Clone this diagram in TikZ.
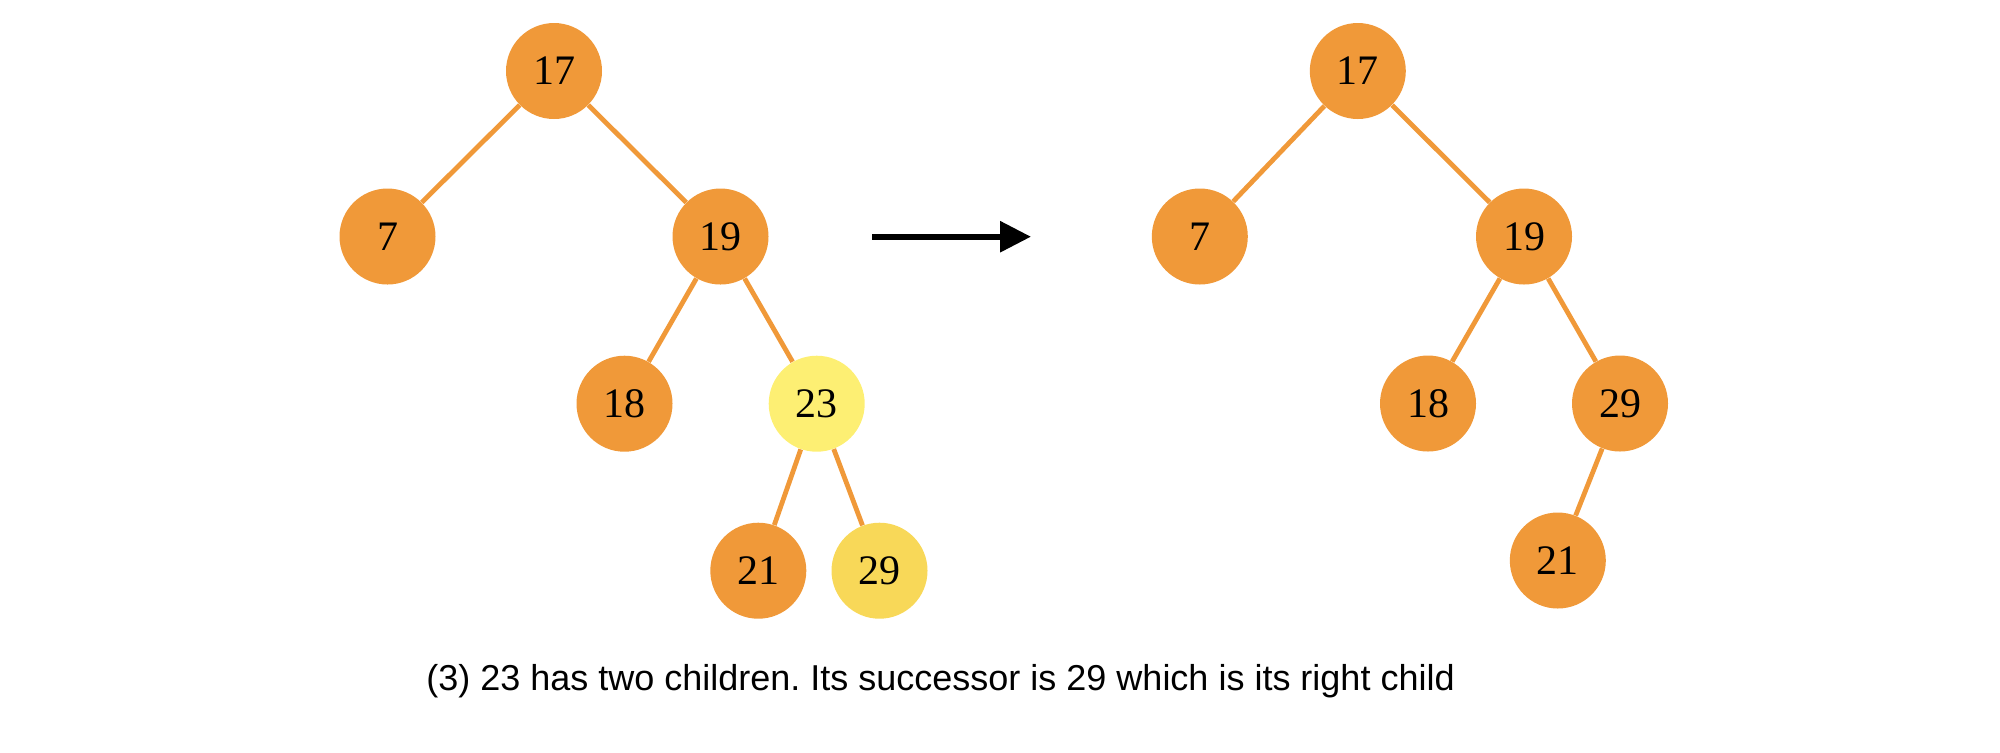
\documentclass[tikz,border=0pt]{standalone}
\usepackage{fontspec}
\setmainfont{Liberation Serif}
\newfontfamily\capfont{Liberation Sans}
\usetikzlibrary{arrows.meta}
\definecolor{treeorange}{RGB}{240,153,57}
\definecolor{lightyellow}{RGB}{253,239,115}
\definecolor{goldyellow}{RGB}{248,216,88}
\tikzset{
  tnode/.style={circle, draw=none, fill=treeorange, minimum size=48pt, inner sep=0pt,
    font=\fontsize{21}{24}\selectfont},
  hlnode/.style={tnode, fill=lightyellow},
  succnode/.style={tnode, fill=goldyellow},
  edge/.style={draw=treeorange, line width=2.4pt},
  bigarrow/.style={draw=black, line width=3pt, -{Triangle[length=15.5pt,width=15pt]}}
}
\begin{document}
\frenchspacing
\begin{tikzpicture}[x=0.5pt,y=-0.5pt]
\useasboundingbox (0,0) rectangle (2000,752);
% left tree
\node[tnode] (L17) at (554,71) {17};
\node[tnode] (L7) at (387.5,236.5) {7};
\node[tnode] (L19) at (720.5,236.5) {19};
\node[tnode] (L18) at (624.5,403.7) {18};
\node[hlnode] (L23) at (816.7,403.7) {23};
\node[tnode] (L21) at (758.3,570.7) {21};
\node[succnode] (L29) at (879.5,570.7) {29};
% right tree
\node[tnode] (R17) at (1357.8,71) {17};
\node[tnode] (R7) at (1199.8,236.5) {7};
\node[tnode] (R19) at (1524,236.5) {19};
\node[tnode] (R18) at (1428,403.5) {18};
\node[tnode] (R29) at (1620,403.5) {29};
\node[tnode] (R21) at (1557.8,560.5) {21};
% edges
\path[edge] (L17) -- (L7);
\path[edge] (L17) -- (L19);
\path[edge] (L19) -- (L18);
\path[edge] (L19) -- (L23);
\path[edge] (L23) -- (L21);
\path[edge] (L23) -- (L29);
\path[edge] (R17) -- (R7);
\path[edge] (R17) -- (R19);
\path[edge] (R19) -- (R18);
\path[edge] (R19) -- (R29);
\path[edge] (R29) -- (R21);
% arrow
\coordinate (a1) at (872,236.7);
\coordinate (a2) at (1031,236.7);
\draw[bigarrow] (a1) -- (a2);
% caption
\node[font=\capfont\fontsize{18}{22}\selectfont, inner sep=0pt] (cap) at (940.5,681)
  {(3) 23 has two children. Its successor is 29 which is its right child};
\end{tikzpicture}
\end{document}
